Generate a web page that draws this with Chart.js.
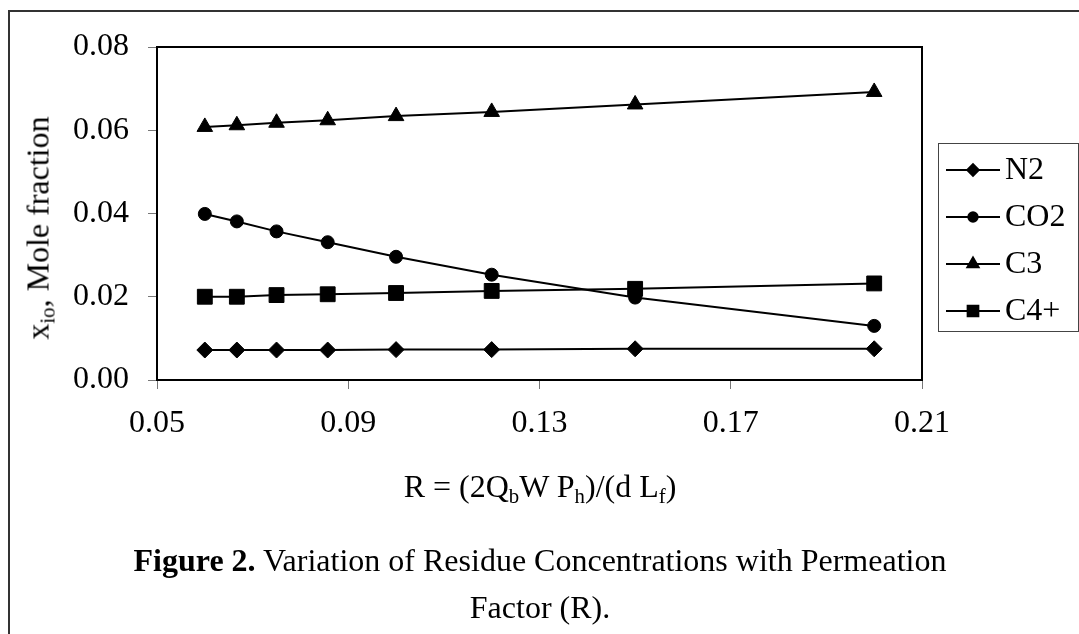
<!DOCTYPE html>
<html>
<head>
<meta charset="utf-8">
<script src="https://cdn.jsdelivr.net/npm/chart.js@4.4.0/dist/chart.umd.min.js"></script>
<style>
  html, body { margin: 0; padding: 0; background: #fff; }
  body { width: 1079px; height: 634px; position: relative; overflow: hidden; font-family: "Liberation Serif", "Times New Roman", serif; color: #000; }
  #frame { position: absolute; left: 8px; top: 10px; width: 1200px; height: 800px; border: 2px solid #333; }
  #chart { position: absolute; left: 0; top: 0; }
  .ytitle { position: absolute; left: 38px; top: 228px; transform: translate(-50%, -50%) rotate(-90deg); white-space: nowrap; font-size: 32px; }
  .xtitle { position: absolute; left: 540px; top: 486px; transform: translate(-50%, -50%); white-space: nowrap; font-size: 32px; }
  .caption { position: absolute; left: 540px; top: 584px; transform: translate(-50%, -50%); text-align: center; white-space: nowrap; font-size: 32px; line-height: 47px; }
  sub { font-size: 65%; vertical-align: -0.3em; line-height: 0; }
</style>
</head>
<body>
<div id="frame"></div>
<canvas id="chart" width="1079" height="634"></canvas>
<div class="ytitle">x<sub>io</sub>, Mole fraction</div>
<div class="xtitle">R = (2Q<sub>b</sub>W P<sub>h</sub>)/(d L<sub>f</sub>)</div>
<div class="caption"><b>Figure 2.</b> Variation of Residue Concentrations with Permeation<br>Factor (R).</div>
<script>
// permeation factor R
var rValues = [0.06, 0.0667, 0.075, 0.0857, 0.1, 0.12, 0.15, 0.2];

// residue mole fractions
var n2  = [0.0072, 0.0072, 0.0072, 0.0072, 0.0073, 0.0073, 0.0075, 0.0075];
var co2 = [0.0399, 0.0381, 0.0357, 0.0331, 0.0296, 0.0253, 0.0198, 0.0130];
var c3  = [0.0608, 0.0612, 0.0618, 0.0624, 0.0634, 0.0644, 0.0662, 0.0692];
var c4  = [0.0200, 0.0200, 0.0204, 0.0206, 0.0209, 0.0214, 0.0219, 0.0232];

var seriesNames = ['N2', 'CO2', 'C3', 'C4+'];
var xTicks = [0.05, 0.09, 0.13, 0.17, 0.21];
var yTicks = [0.00, 0.02, 0.04, 0.06, 0.08];

var FONT = '"Liberation Serif", "Times New Roman", serif';

function toPoints(ys) {
    var pts = [];
    for (var i = 0; i < rValues.length; i++) {
        pts.push({ x: rValues[i], y: ys[i] });
    }
    return pts;
}

function makeSet(label, ys, style, radius) {
    return {
        label: label,
        data: toPoints(ys),
        borderColor: '#000',
        backgroundColor: '#000',
        borderWidth: 2,
        pointStyle: style,
        pointRadius: radius,
        pointBorderWidth: 1,
        pointBackgroundColor: '#000',
        pointBorderColor: '#000',
        tension: 0,
        fill: false
    };
}

// frame round the plot area + boxed legend
var framePlugin = {
    id: 'frameAndLegend',
    afterDraw: function (chart) {
        var ctx = chart.ctx;
        var a = chart.chartArea;
        ctx.save();
        ctx.strokeStyle = '#000';
        ctx.lineWidth = 2;
        ctx.strokeRect(a.left, a.top, a.right - a.left, a.bottom - a.top);

        // legend box
        var bx = 938, by = 143, bw = 140, bh = 188;
        ctx.lineWidth = 1;
        ctx.strokeStyle = '#444';
        ctx.strokeRect(bx + 0.5, by + 0.5, bw, bh);

        ctx.font = '32px ' + FONT;
        ctx.textBaseline = 'middle';
        ctx.fillStyle = '#000';
        chart.data.datasets.forEach(function (ds, i) {
            var cy = by + 27 + i * 47;
            ctx.strokeStyle = '#000';
            ctx.lineWidth = 2;
            ctx.beginPath();
            ctx.moveTo(bx + 8, cy);
            ctx.lineTo(bx + 62, cy);
            ctx.stroke();
            ctx.fillStyle = '#000';
            Chart.helpers.drawPoint(ctx, {
                pointStyle: ds.pointStyle,
                radius: ds.pointRadius * 0.72,
                borderWidth: 1,
                rotation: 0
            }, bx + 35, cy);
            ctx.fillText(ds.label, bx + 67, cy + 1);
        });
        ctx.restore();
    }
};

var chart = new Chart(document.getElementById('chart'), {
    type: 'line',
    data: {
        datasets: [
            makeSet(seriesNames[0], n2, 'rectRot', 8),
            makeSet(seriesNames[1], co2, 'circle', 6.5),
            makeSet(seriesNames[2], c3, 'triangle', 9),
            makeSet(seriesNames[3], c4, 'rect', 10.5)
        ]
    },
    options: {
        responsive: false,
        animation: false,
        layout: { padding: { left: 0, right: 157, top: 47, bottom: 194 } },
        plugins: {
            legend: { display: false },
            tooltip: { enabled: false }
        },
        scales: {
            x: {
                type: 'linear',
                min: 0.05,
                max: 0.21,
                afterBuildTicks: function (scale) {
                    scale.ticks = xTicks.map(function (v) { return { value: v }; });
                },
                afterFit: function (scale) { scale.height = 60; },
                ticks: {
                    color: '#000',
                    font: { family: FONT, size: 32 },
                    padding: 15,
                    maxRotation: 0,
                    callback: function (v) { return Number(v).toFixed(2); }
                },
                grid: { drawOnChartArea: false, color: '#777', tickLength: 9 },
                border: { display: true, color: '#000', width: 2 }
            },
            y: {
                min: 0,
                max: 0.08,
                afterBuildTicks: function (scale) {
                    scale.ticks = yTicks.map(function (v) { return { value: v }; });
                },
                afterFit: function (scale) { scale.width = 157; },
                ticks: {
                    color: '#000',
                    font: { family: FONT, size: 32 },
                    padding: 19,
                    callback: function (v) { return Number(v).toFixed(2); }
                },
                grid: { drawOnChartArea: false, color: '#777', tickLength: 9 },
                border: { display: true, color: '#000', width: 2 }
            }
        }
    },
    plugins: [framePlugin]
});
</script>
</body>
</html>
